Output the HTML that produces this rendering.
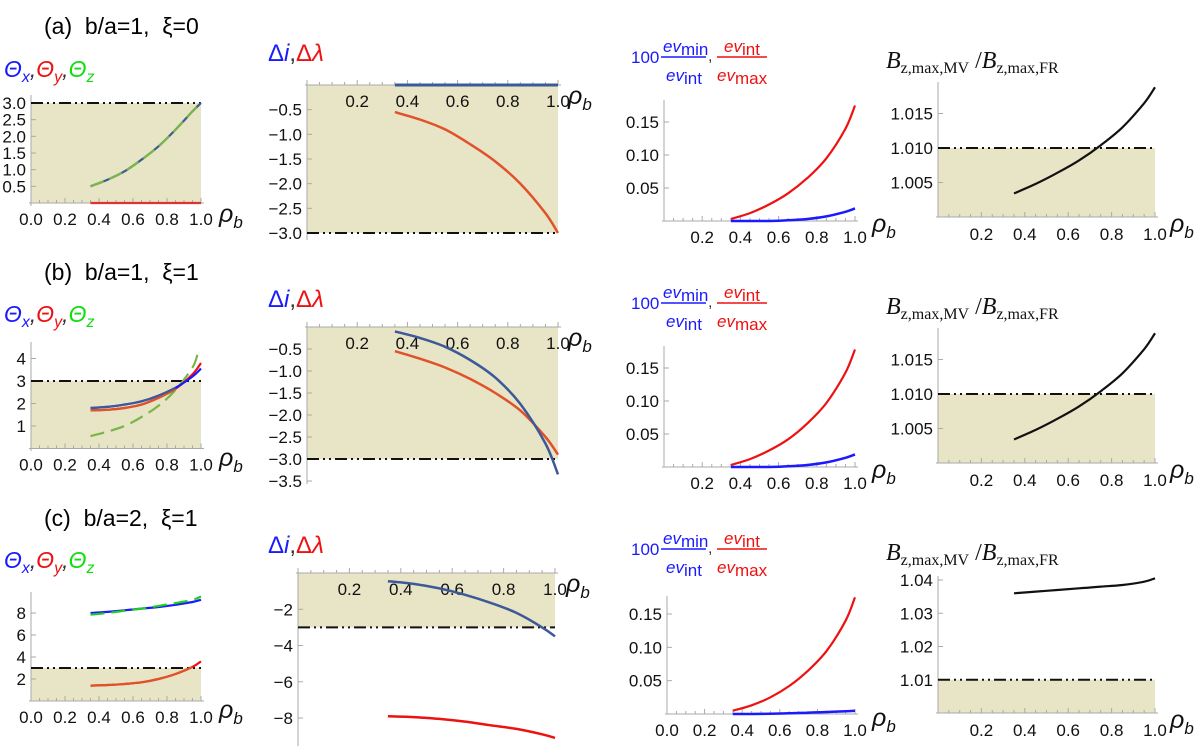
<!DOCTYPE html>
<html><head><meta charset="utf-8"><style>
body{margin:0;background:#fff;}
svg{display:block;font-family:"Liberation Sans",sans-serif;}
</style></head><body>
<svg id="fig" width="1200" height="746" viewBox="0 0 1200 746" xmlns="http://www.w3.org/2000/svg">
<g id="labels">
<text x="44" y="34" font-size="23" xml:space="preserve">(a)  b/a=1,  ξ=0</text>
<text x="44" y="280" font-size="23" xml:space="preserve">(b)  b/a=1,  ξ=1</text>
<text x="44" y="526" font-size="23" xml:space="preserve">(c)  b/a=2,  ξ=1</text>
</g>
<g id="plots"></g>
</svg>
<script>
// ---- data ----
const rho = [0.35,0.45,0.55,0.65,0.75,0.85,0.95,1.0];
const rhoGreenB = [0.35,0.45,0.55,0.65,0.75,0.85,0.95,0.98];
// row a
const aThetaXZ = [0.5,0.7,0.95,1.3,1.7,2.2,2.75,3.0];
const aThetaY = [0,0,0,0,0,0,0,0];
const aDeltaI = [0,0,0,0,0,0,0,0];
const aDeltaL = [-0.55,-0.7,-0.9,-1.2,-1.55,-2.0,-2.6,-3.0];
const aEvRed = [0.003,0.012,0.025,0.042,0.065,0.095,0.14,0.175];
const aEvBlue = [0,0,0,0.001,0.003,0.007,0.014,0.019];
const aB = [1.0034,1.0048,1.0064,1.0082,1.0104,1.013,1.0165,1.0188];
// row b
const bThetaX = [1.8,1.85,1.95,2.1,2.35,2.7,3.2,3.55];
const bThetaY = [1.7,1.72,1.8,1.95,2.25,2.65,3.3,3.8];
const bThetaZ = [0.55,0.75,1.0,1.4,1.9,2.6,3.6,4.2];
const bDeltaI = [-0.1,-0.25,-0.45,-0.75,-1.15,-1.75,-2.65,-3.35];
const bDeltaL = [-0.55,-0.72,-0.92,-1.18,-1.5,-1.9,-2.5,-2.9];
const bEvRed = [0.003,0.012,0.025,0.042,0.066,0.097,0.143,0.178];
const bEvBlue = [0,0,0,0.001,0.003,0.007,0.014,0.019];
const bB = [1.0034,1.0048,1.0064,1.0082,1.0104,1.013,1.0165,1.0188];
// row c
const cThetaX = [8.0,8.1,8.25,8.4,8.55,8.75,9.0,9.2];
const cThetaZ = [7.85,8.0,8.2,8.4,8.65,8.9,9.2,9.5];
const cThetaY = [1.4,1.45,1.55,1.7,2.0,2.45,3.1,3.6];
const cDeltaI = [-0.45,-0.6,-0.85,-1.2,-1.65,-2.2,-3.0,-3.5];
const cDeltaL = [-7.9,-7.95,-8.05,-8.2,-8.4,-8.6,-8.9,-9.1];
const cEvRed = [0.005,0.013,0.025,0.042,0.065,0.095,0.14,0.175];
const cEvBlue = [0,0,0.0005,0.001,0.002,0.003,0.004,0.005];
const cB = [1.036,1.0365,1.037,1.0375,1.038,1.0385,1.0395,1.0405];
// tick labels
const thetaTicksA = [0.5,1.0,1.5,2.0,2.5,3.0];
const thetaTicksB = [1,2,3,4];
const thetaTicksC = [2,4,6,8];
const deltaTicksA = [-0.5,-1.0,-1.5,-2.0,-2.5,-3.0];
const deltaTicksB = [-0.5,-1.0,-1.5,-2.0,-2.5,-3.0,-3.5];
const deltaTicksC = [-2,-4,-6,-8];
const evTicks = [0.05,0.10,0.15];
const bTicksAB = [1.005,1.010,1.015];
const bTicksC = [1.01,1.02,1.03,1.04];
const xTicksFull = [0.0,0.2,0.4,0.6,0.8,1.0];
const xTicksNoZero = [0.2,0.4,0.6,0.8,1.0];

const NS = "http://www.w3.org/2000/svg";
const root = document.getElementById('plots');
const SHADE = "#e8e4c6";
const BLUE2 = "#3d5a98", ORANGE = "#e0522a";
const FS = 17;

function el(tag, attrs, parent){
  const e = document.createElementNS(NS, tag);
  for (const k in attrs) e.setAttribute(k, attrs[k]);
  parent.appendChild(e);
  return e;
}
function fmt(v, d){ return (v<0?"\u2212":"") + Math.abs(v).toFixed(d); }
function smooth(P){
  let d = "M" + P[0][0].toFixed(1) + "," + P[0][1].toFixed(1);
  for (let i=0;i<P.length-1;i++){
    const p0 = P[i-1]||P[i], p1 = P[i], p2 = P[i+1], p3 = P[i+2]||P[i+1];
    const c1 = [p1[0]+(p2[0]-p0[0])/6, p1[1]+(p2[1]-p0[1])/6];
    const c2 = [p2[0]-(p3[0]-p1[0])/6, p2[1]-(p3[1]-p1[1])/6];
    d += " C" + c1.map(v=>v.toFixed(1)).join(",") + " " + c2.map(v=>v.toFixed(1)).join(",") + " " + p2.map(v=>v.toFixed(1)).join(",");
  }
  return d;
}

function panel(c){
  const g = el('g', {}, root);
  
  
  const sx = v => c.x0 + (c.x1 - c.x0) * v;
  const sy = v => c.p0 + (c.p1 - c.p0) * (v - c.v0) / (c.v1 - c.v0);
  const axisY = sy(c.xAxisVal);
  if (c.shade){
    const r = el('rect', {x: sx(0), y: Math.min(sy(c.shade[0]), sy(c.shade[1])), width: sx(1)-sx(0), height: Math.abs(sy(c.shade[1])-sy(c.shade[0])), fill: SHADE}, g);
    
    
  }
  const xa = el('line', {x1: sx(0)-2, x2: sx(1)+3, y1: axisY, y2: axisY, stroke: "#aaa", "stroke-width": 1}, g);
  
  
  const ya = el('line', {x1: sx(0), x2: sx(0), y1: c.yTop, y2: c.yBot, stroke: "#aaa", "stroke-width": 1}, g);
  
  
  for (let i=0;i<=20;i++){
    const v = i/20, major = i%4===0;
    el('line', {x1: sx(v), x2: sx(v), y1: axisY, y2: axisY - (major?5:3), stroke: "#aaa"}, g);
  }
  c.xTicks.forEach(v => {
    const t = el('text', {x: sx(v), y: axisY + c.xLabOff, "font-size": FS, "text-anchor": "middle", fill: "#111"}, g);
    t.textContent = v.toFixed(1);
    
    
  });
  c.yTicks.forEach(v => {
    el('line', {x1: sx(0), x2: sx(0)+5, y1: sy(v), y2: sy(v), stroke: "#aaa"}, g);
    const t = el('text', {x: sx(0) - 5, y: sy(v) + 6, "font-size": FS, "text-anchor": "end", fill: "#111"}, g);
    t.textContent = fmt(v, c.yDec);
    
    
  });
  if (c.dash !== undefined){
    const d = el('line', {x1: sx(0), x2: sx(1), y1: sy(c.dash), y2: sy(c.dash), stroke: "#111", "stroke-width": 2, "stroke-dasharray": "12 4 2 4 2 4"}, g);
    
    
  }
  c.series.forEach(s => {
    const P = s.xs.map((x,i) => [sx(x), sy(s.ys[i])]);
    const p = el('path', {d: smooth(P), fill: "none", stroke: s.color, "stroke-width": s.w || 2.2, "stroke-linejoin": "round"}, g);
    if (s.dash) p.setAttribute('stroke-dasharray', s.dash);
    
    
  });
  const rl = el('text', {x: c.rhoX, y: c.rhoY, "font-size": 25, "font-style": "italic", fill: "#111"}, g);
  rl.innerHTML = 'ρ<tspan font-size="17" dy="6">b</tspan>';
  
  
}

function thetaLabel(y){
  const t = el('text', {x: 4, y: y, "font-size": 23, "font-style": "italic"}, root);
  t.innerHTML = '<tspan fill="#1a1aff">Θ<tspan font-size="16" dy="5">x</tspan></tspan><tspan fill="#333" dy="-5">,</tspan><tspan fill="#ee1111">Θ<tspan font-size="16" dy="5">y</tspan></tspan><tspan fill="#333" dy="-5">,</tspan><tspan fill="#11dd11">Θ<tspan font-size="16" dy="5">z</tspan></tspan>';
  
  
}
function deltaLabel(x, y){
  const t = el('text', {x: x, y: y, "font-size": 24}, root);
  t.innerHTML = '<tspan fill="#1a1aff">Δ<tspan font-style="italic">i</tspan></tspan><tspan fill="#333">,</tspan><tspan fill="#ee1111">Δ<tspan font-style="italic">λ</tspan></tspan>';
  
  
}
function evLabel(y){
  const g = el('g', {}, root);
  
  
  const t1 = el('text', {x: 631, y: y+6, "font-size": 17, fill: "#1a1aff"}, g); t1.textContent = "100";
  el('line', {x1: 661, x2: 706, y1: y, y2: y, stroke: "#1a1aff", "stroke-width": 1.5}, g);
  const n1 = el('text', {x: 663, y: y-5, "font-size": 17, fill: "#1a1aff"}, g);
  n1.innerHTML = '<tspan font-style="italic">ev</tspan><tspan dy="3">min</tspan>';
  const d1 = el('text', {x: 666, y: y+24, "font-size": 17, fill: "#1a1aff"}, g);
  d1.innerHTML = '<tspan font-style="italic">ev</tspan><tspan dy="3">int</tspan>';
  const cm = el('text', {x: 708, y: y+4, "font-size": 16, fill: "#333"}, g); cm.textContent = ",";
  el('line', {x1: 717, x2: 767, y1: y, y2: y, stroke: "#ee1111", "stroke-width": 1.5}, g);
  const n2 = el('text', {x: 724, y: y-5, "font-size": 17, fill: "#ee1111"}, g);
  n2.innerHTML = '<tspan font-style="italic">ev</tspan><tspan dy="3">int</tspan>';
  const d2 = el('text', {x: 717, y: y+24, "font-size": 17, fill: "#ee1111"}, g);
  d2.innerHTML = '<tspan font-style="italic">ev</tspan><tspan dy="3">max</tspan>';
}
function bLabel(y){
  const t = el('text', {x: 886, y: y, "font-size": 24, "font-family": "Liberation Serif, serif", fill: "#111"}, root);
  t.setAttribute('xml:space', 'preserve');
  t.innerHTML = '<tspan font-style="italic">B</tspan><tspan font-size="16" dy="5">z,max,MV</tspan><tspan dy="-5">  /</tspan><tspan font-style="italic">B</tspan><tspan font-size="16" dy="5">z,max,FR</tspan>';
  
  
}

// ---- row a ----
thetaLabel(77); deltaLabel(268, 61); evLabel(57); bLabel(68);
panel({name:'theta-panel-a', x0:31, x1:201, v0:0, p0:203, v1:3, p1:103, xAxisVal:0, yTop:95, yBot:206,
  shade:[0,3], dash:3, xTicks:xTicksFull, xLabOff:22, yTicks:thetaTicksA, yDec:1, rhoX:219, rhoY:222,
  series:[{xs:rho, ys:aThetaY, color:"#dd3333", name:'theta-y-line'},
          {xs:rho, ys:aThetaXZ, color:BLUE2, name:'theta-x-line'},
          {xs:rho, ys:aThetaXZ, color:"#7ab648", dash:"14 6", name:'theta-z-line'}]});
panel({name:'delta-panel-a', x0:307, x1:558, v0:0, p0:85, v1:-3, p1:233, xAxisVal:0, yTop:82, yBot:240,
  shade:[0,-3], dash:-3, xTicks:xTicksNoZero, xLabOff:22, yTicks:deltaTicksA, yDec:1, rhoX:568, rhoY:104,
  series:[{xs:rho, ys:aDeltaI, color:BLUE2, w:3, name:'delta-i-line'},
          {xs:rho, ys:aDeltaL, color:ORANGE, w:2.5, name:'delta-lambda-line'}]});
panel({name:'ev-panel-a', x0:664, x1:855, v0:0, p0:221, v1:0.15, p1:122, xAxisVal:0, yTop:100, yBot:221,
  xTicks:xTicksNoZero, xLabOff:22, yTicks:evTicks, yDec:2, rhoX:872, rhoY:232,
  series:[{xs:rho, ys:aEvRed, color:"#ee1111", name:'ev-int-max-line'},
          {xs:rho, ys:aEvBlue, color:"#1a1aff", w:2.5, name:'ev-min-int-line'}]});
panel({name:'bz-panel-a', x0:938, x1:1155, v0:1.0, p0:217, v1:1.01, p1:148, xAxisVal:1.0, yTop:82, yBot:217,
  shade:[1.0,1.01], dash:1.01, xTicks:xTicksNoZero, xLabOff:23, yTicks:bTicksAB, yDec:3, rhoX:1170, rhoY:232,
  series:[{xs:rho, ys:aB, color:"#111", name:'bz-ratio-line'}]});

// ---- row b ----
thetaLabel(322); deltaLabel(268, 307); evLabel(303); bLabel(314);
panel({name:'theta-panel-b', x0:31, x1:201, v0:0, p0:448.5, v1:4, p1:358.5, xAxisVal:0, yTop:342, yBot:451,
  shade:[0,3], dash:3, xTicks:xTicksFull, xLabOff:22, yTicks:thetaTicksB, yDec:0, rhoX:219, rhoY:466,
  series:[{xs:rhoGreenB, ys:bThetaZ, color:"#7ab648", dash:"14 7", name:'theta-z-line'},
          {xs:rho, ys:bThetaY, color:"#ee1111", name:'theta-y-line'},
          {xs:rho, ys:bThetaX, color:"#1a1aff", name:'theta-x-line'},
          {xs:rho.slice(0,6), ys:bThetaY.slice(0,6), color:ORANGE, name:'theta-y-line-lower'},
          {xs:rho.slice(0,6), ys:bThetaX.slice(0,6), color:BLUE2, name:'theta-x-line-lower'}]});
panel({name:'delta-panel-b', x0:307, x1:558, v0:0, p0:327, v1:-3, p1:459, xAxisVal:0, yTop:325, yBot:484,
  shade:[0,-3], dash:-3, xTicks:xTicksNoZero, xLabOff:22, yTicks:deltaTicksB, yDec:1, rhoX:568, rhoY:346,
  series:[{xs:rho, ys:bDeltaL, color:ORANGE, w:2.5, name:'delta-lambda-line'},
          {xs:rho, ys:bDeltaI, color:BLUE2, w:2.5, name:'delta-i-line'}]});
panel({name:'ev-panel-b', x0:664, x1:855, v0:0, p0:467, v1:0.15, p1:368, xAxisVal:0, yTop:346, yBot:467,
  xTicks:xTicksNoZero, xLabOff:22, yTicks:evTicks, yDec:2, rhoX:872, rhoY:478,
  series:[{xs:rho, ys:bEvRed, color:"#ee1111", name:'ev-int-max-line'},
          {xs:rho, ys:bEvBlue, color:"#1a1aff", w:2.5, name:'ev-min-int-line'}]});
panel({name:'bz-panel-b', x0:938, x1:1155, v0:1.0, p0:463, v1:1.01, p1:394, xAxisVal:1.0, yTop:328, yBot:463,
  shade:[1.0,1.01], dash:1.01, xTicks:xTicksNoZero, xLabOff:23, yTicks:bTicksAB, yDec:3, rhoX:1170, rhoY:478,
  series:[{xs:rho, ys:bB, color:"#111", name:'bz-ratio-line'}]});

// ---- row c ----
thetaLabel(568); deltaLabel(268, 553); evLabel(549); bLabel(560);
panel({name:'theta-panel-c', x0:31, x1:201, v0:0, p0:701, v1:8, p1:613, xAxisVal:0, yTop:592, yBot:700,
  shade:[0,3], dash:3, xTicks:xTicksFull, xLabOff:22, yTicks:thetaTicksC, yDec:0, rhoX:219, rhoY:718,
  series:[{xs:rho, ys:cThetaY, color:"#ee1111", name:'theta-y-line'},
          {xs:rho.slice(0,7), ys:cThetaY.slice(0,7), color:ORANGE, name:'theta-y-line-lower'},
          {xs:rho, ys:cThetaX, color:"#1a1aff", name:'theta-x-line'},
          {xs:rho, ys:cThetaZ, color:"#22cc22", dash:"14 7", name:'theta-z-line'}]});
panel({name:'delta-panel-c', x0:298, x1:555, v0:0, p0:573, v1:-8, p1:718, xAxisVal:0, yTop:571, yBot:746,
  shade:[0,-3], dash:-3, xTicks:xTicksNoZero, xLabOff:22, yTicks:deltaTicksC, yDec:0, rhoX:566, rhoY:592,
  series:[{xs:rho, ys:cDeltaI, color:BLUE2, w:2.5, name:'delta-i-line'},
          {xs:rho, ys:cDeltaL, color:"#ee1111", w:2.5, name:'delta-lambda-line'}]});
panel({name:'ev-panel-c', x0:667, x1:855, v0:0, p0:714, v1:0.15, p1:614, xAxisVal:0, yTop:596, yBot:714,
  xTicks:xTicksFull, xLabOff:22, yTicks:evTicks, yDec:2, rhoX:872, rhoY:726,
  series:[{xs:rho, ys:cEvRed, color:"#ee1111", name:'ev-int-max-line'},
          {xs:rho, ys:cEvBlue, color:"#1a1aff", w:2.5, name:'ev-min-int-line'}]});
panel({name:'bz-panel-c', x0:938, x1:1155, v0:1.0, p0:713, v1:1.04, p1:580, xAxisVal:1.0, yTop:576, yBot:713,
  shade:[1.0,1.01], dash:1.01, xTicks:xTicksNoZero, xLabOff:23, yTicks:bTicksC, yDec:2, rhoX:1170, rhoY:728,
  series:[{xs:rho, ys:cB, color:"#111", name:'bz-ratio-line'}]});
</script>
</body></html>
